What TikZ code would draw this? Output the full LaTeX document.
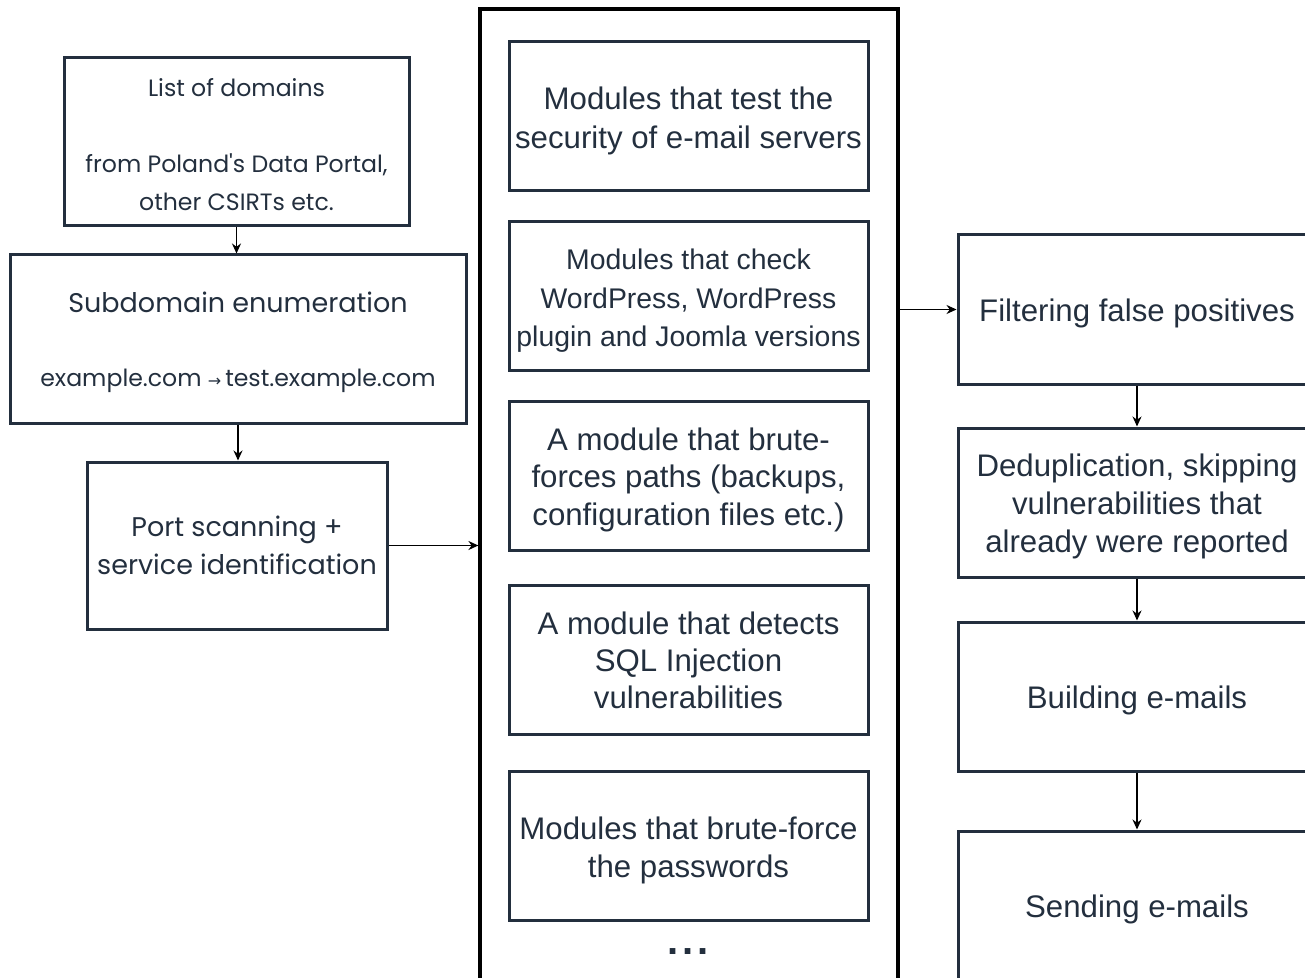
\documentclass[tikz,border=0pt]{standalone}
\usepackage{fontspec}
\setmainfont{Liberation Sans}
\newfontfamily\qs{Poppins}
\newfontfamily\djv{DejaVu Sans}
\usetikzlibrary{arrows.meta}
\definecolor{ink}{HTML}{232F3E}
\begin{document}
\begin{tikzpicture}[x=0.5pt,y=-0.5pt,
  box/.style={draw=ink,line width=1.5pt,rectangle,inner sep=0pt},
  txt/.style={text=ink,align=center,inner sep=0pt},
  ltxt/.style={txt,font=\qs\fontsize{13.5}{19.3}\selectfont},
  mtxt/.style={txt,font=\fontsize{15.6}{19.3}\selectfont},
  modbox/.style={box,minimum width=179.5pt,minimum height=74.5pt},
  rbox/.style={box,minimum width=179pt,minimum height=74.5pt},
  arr/.style={-{Stealth[length=5pt,width=4.5pt]},line width=0.75pt,black}
]
\useasboundingbox (0,0) rectangle (1305,978);
\clip (0,0) rectangle (1305,978);

% left column
\node[box,minimum width=172.5pt,minimum height=84pt,
  label={[ltxt,font=\qs\fontsize{11.8}{18.9}\selectfont,yshift=-1.2pt]center:{List of domains\\[18.9pt]from Poland's Data Portal,\\other CSIRTs etc.}}] (list) at (236.5,142) {};
\node[box,minimum width=228pt,minimum height=84pt,
  label={[ltxt,yshift=-1.7pt]center:{Subdomain enumeration\\[17.5pt]{\fontsize{11.8}{19}\selectfont example.com {\djv\fontsize{8}{8}\selectfont →}\,test.example.com}}}] (sub) at (238,339) {};
\node[box,minimum width=150pt,minimum height=83.5pt,
  label={[ltxt]center:{Port scanning +\\service identification}}] (port) at (237,545.5) {};

% container
\node[draw=black,line width=1.6pt,rectangle,inner sep=0pt,minimum width=209pt,minimum height=495.5pt] (cont) at (689,504.5) {};

% modules
\node[modbox,label={[mtxt,yshift=-2.2pt]center:{Modules that test the\\security of e-mail servers}}] (m1) at (688.5,116.5) {};
\node[modbox,label={[mtxt,font=\fontsize{14.2}{19.3}\selectfont,yshift=-2.5pt]center:{Modules that check\\WordPress, WordPress\\plugin and Joomla versions}}] (m2) at (688.5,296) {};
\node[modbox,label={[mtxt,font=\fontsize{15.6}{18.8}\selectfont,yshift=-2.2pt]center:{A module that brute-\\forces paths (backups,\\configuration files etc.)}}] (m3) at (688.5,475.5) {};
\node[modbox,label={[mtxt,font=\fontsize{15.6}{18.5}\selectfont,yshift=-0.3pt]center:{A module that detects\\SQL Injection\\vulnerabilities}}] (m4) at (688.5,659.5) {};
\node[modbox,label={[mtxt,yshift=-2.5pt]center:{Modules that brute-force\\the passwords}}] (m5) at (688.5,845.5) {};
\node[txt,anchor=base,font=\fontsize{20}{20}\selectfont\bfseries] (dots) at (688,954) {.\kern2pt.\kern2pt.};

% right column
\node[rbox,label={[mtxt,yshift=-2pt]center:{Filtering false positives}}] (f1) at (1137,309.5) {};
\node[rbox,label={[mtxt,font=\fontsize{15.6}{18.8}\selectfont,yshift=-2pt]center:{Deduplication, skipping\\vulnerabilities that\\already were reported}}] (f2) at (1137,502.5) {};
\node[rbox,label={[mtxt,yshift=-2pt]center:{Building e-mails}}] (f3) at (1137,696.5) {};
\node[rbox,label={[mtxt,yshift=-2pt]center:{Sending e-mails}}] (f4) at (1137,905.5) {};

% connectors
\draw[arr] (list.south) -- (list.south |- sub.north);
\draw[arr] (sub.south) -- (sub.south |- port.north);
\draw[arr] (port.east) -- (port.east -| cont.west);
\draw[arr] (f1.west -| cont.east) -- (f1.west);
\draw[arr] (f1.south) -- (f2.north);
\draw[arr] (f2.south) -- (f3.north);
\draw[arr] (f3.south) -- (f4.north);
\end{tikzpicture}
\end{document}
